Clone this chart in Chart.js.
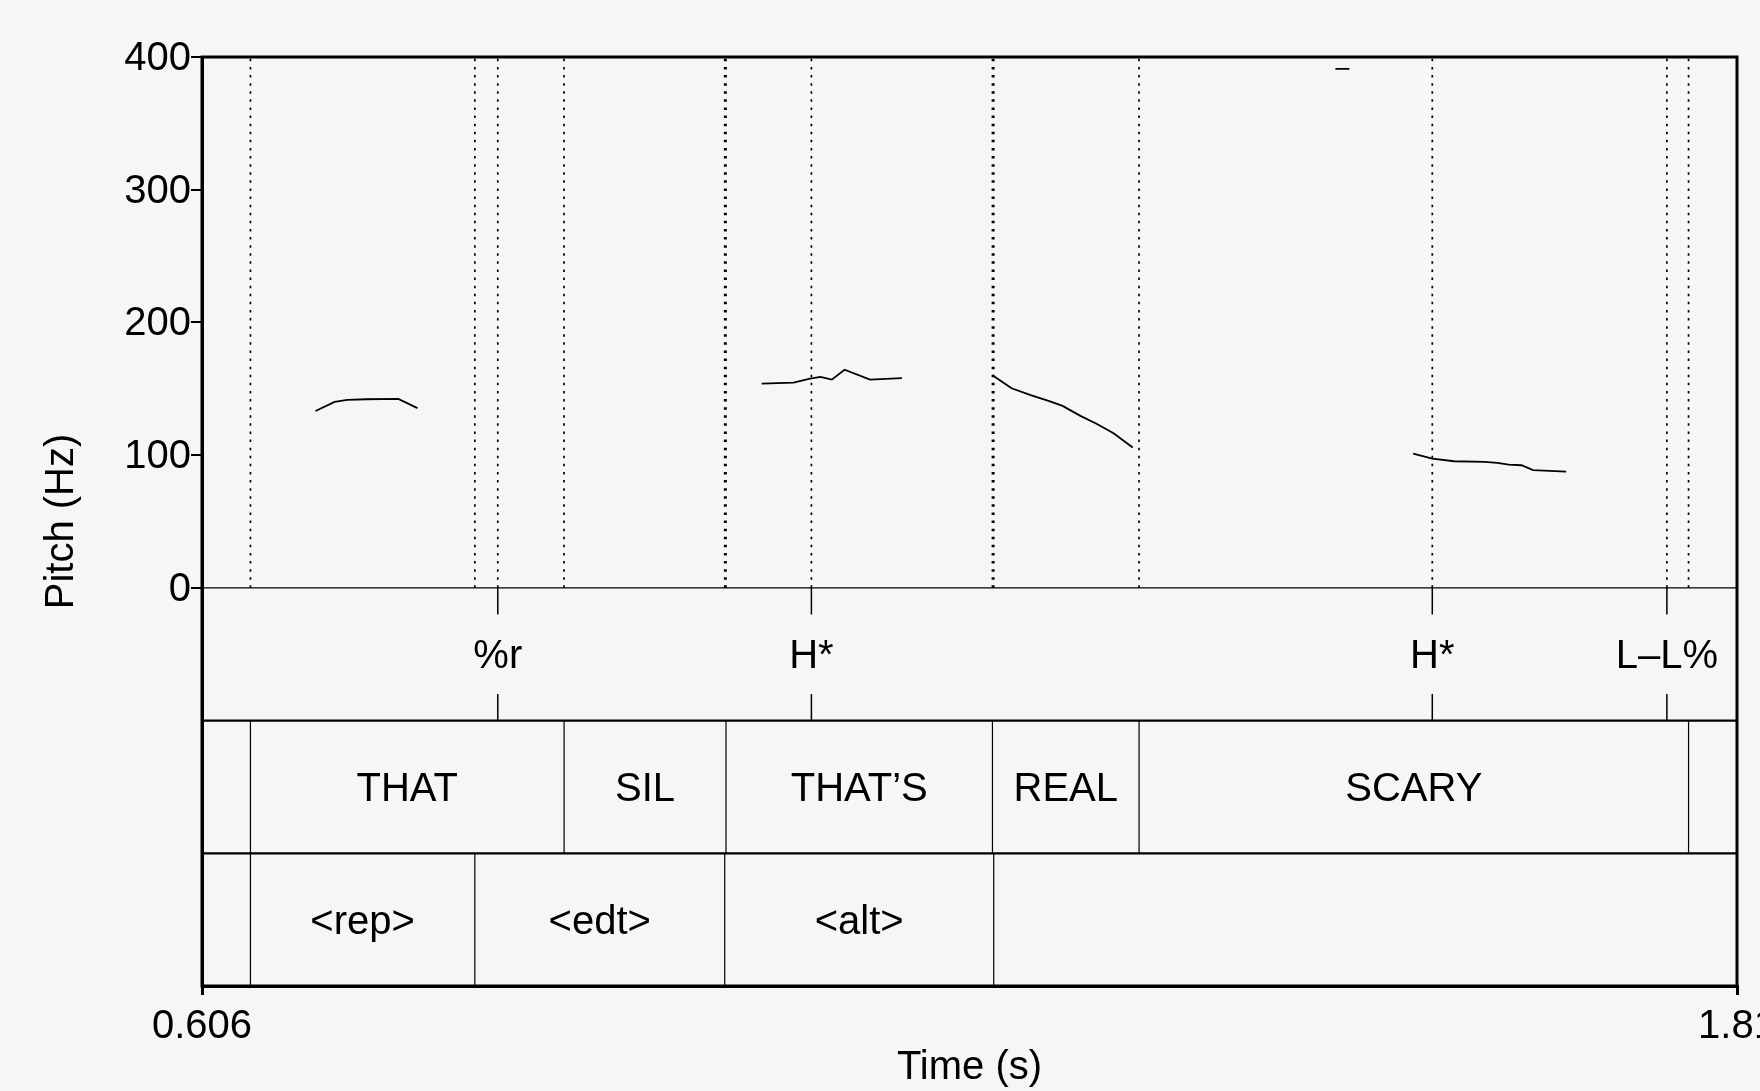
<!DOCTYPE html>
<html lang="en">
<head>
  <meta charset="UTF-8" />
  <title>Pitch track with tone, word and disfluency tiers</title>
  <script src="https://cdn.jsdelivr.net/npm/chart.js@4/dist/chart.umd.min.js"></script>
  <style>
    html, body { margin: 0; padding: 0; background: #f6f6f6; overflow: hidden; }
    canvas { display: block; }
  </style>
</head>
<body>
  <canvas id="pitchChart" width="1760" height="1091"></canvas>

  <script>
    // axes
    const xTicks = [0.606, 1.81];
    const xTickLabels = ['0.606', '1.81'];
    const yTicks = [0, 100, 200, 300, 400];

    // F0 track (s, Hz); a jump in time > 30 ms is an unvoiced gap
    const pitchTime = [0.695, 0.710, 0.720, 0.735, 0.760, 0.775,
                       1.045, 1.070, 1.083, 1.091, 1.100, 1.110, 1.130, 1.155,
                       1.226, 1.241, 1.256, 1.270, 1.281, 1.295, 1.308, 1.321, 1.336,
                       1.495, 1.506,
                       1.556, 1.571, 1.588, 1.612, 1.622, 1.631, 1.641, 1.650, 1.676];
    const pitchHz = [133.3, 140.1, 141.6, 142.1, 142.4, 135.4,
                     153.9, 154.7, 157.7, 158.9, 156.9, 164.4, 156.9, 158.0,
                     160.2, 150.4, 145.2, 140.9, 137.1, 129.6, 123.5, 116.5, 105.7,
                     391.0, 391.0,
                     101.2, 97.4, 95.4, 94.9, 94.2, 92.9, 92.4, 88.7, 87.6];

    // tone tier (points)
    const toneTimes = [0.838, 1.084, 1.571, 1.755];
    const toneLabels = ['%r', 'H*', 'H*', 'L–L%'];

    // word tier (intervals)
    const wordBounds = [0.606, 0.644, 0.890, 1.017, 1.226, 1.341, 1.772, 1.81];
    const wordLabels = ['', 'THAT', 'SIL', 'THAT’S', 'REAL', 'SCARY', ''];

    // disfluency tier (intervals)
    const disfBounds = [0.606, 0.644, 0.820, 1.016, 1.227, 1.81];
    const disfLabels = ['', '<rep>', '<edt>', '<alt>', ''];

    const FONT = '"Liberation Sans", Arial, Helvetica, sans-serif';
    const FSIZE = 40;
    const TIER = 100; // each tier takes 100 units of the y scale below 0 Hz
    const xMin = xTicks[0], xMax = xTicks[xTicks.length - 1];

    function pitchPoints() {
      const pts = [];
      pitchTime.forEach((t, i) => {
        if (i > 0 && t - pitchTime[i - 1] > 0.03) pts.push({ x: t, y: null });
        pts.push({ x: t, y: pitchHz[i] });
      });
      return pts;
    }

    function vlines(times, y0, y1) {
      const pts = [];
      times.forEach(t => {
        pts.push({ x: t, y: y0 }, { x: t, y: y1 }, { x: t, y: null });
      });
      return pts;
    }

    const inner = arr => arr.slice(1, -1);
    const dottedTimes = [...new Set([...inner(wordBounds), ...inner(disfBounds), ...toneTimes])]
      .sort((a, b) => a - b);

    const lineBase = { borderColor: '#000', pointRadius: 0, spanGaps: false, tension: 0, fill: false };

    const datasets = [
      Object.assign({}, lineBase, { data: vlines(dottedTimes, 0, yTicks[yTicks.length - 1]), borderWidth: 1.7, borderDash: [2.5, 5.6] }),
      Object.assign({}, lineBase, { data: [{ x: xMin, y: 0 }, { x: xMax, y: 0 }], borderWidth: 1.3 }),
      Object.assign({}, lineBase, { data: [{ x: xMin, y: -TIER }, { x: xMax, y: -TIER }, { x: xMax, y: null },
                                           { x: xMin, y: -2 * TIER }, { x: xMax, y: -2 * TIER }], borderWidth: 2.2 }),
      Object.assign({}, lineBase, { data: vlines(toneTimes, 0, -0.2 * TIER).concat(vlines(toneTimes, -0.8 * TIER, -TIER)), borderWidth: 1.5 }),
      Object.assign({}, lineBase, { data: vlines(inner(wordBounds), -TIER, -2 * TIER), borderWidth: 1.2 }),
      Object.assign({}, lineBase, { data: vlines(inner(disfBounds), -2 * TIER, -3 * TIER), borderWidth: 1.2 }),
      Object.assign({}, lineBase, { data: pitchPoints(), borderWidth: 1.8 })
    ];

    const background = {
      id: 'background',
      beforeDraw(chart) {
        const c = chart.ctx;
        c.save();
        c.fillStyle = '#f6f6f6';
        c.fillRect(0, 0, chart.width, chart.height);
        c.restore();
      }
    };

    // tier labels and the outer frame
    const tierText = {
      id: 'tierText',
      afterDatasetsDraw(chart) {
        const { ctx, chartArea, scales: { x, y } } = chart;
        const dy = 3;
        ctx.save();
        ctx.font = FSIZE + 'px ' + FONT;
        ctx.fillStyle = '#000';
        ctx.textAlign = 'center';
        ctx.textBaseline = 'middle';
        toneTimes.forEach((t, i) => {
          ctx.fillText(toneLabels[i], x.getPixelForValue(t), y.getPixelForValue(-0.5 * TIER) + dy);
        });
        wordLabels.forEach((lab, i) => {
          if (!lab) return;
          const cx = x.getPixelForValue((wordBounds[i] + wordBounds[i + 1]) / 2);
          ctx.fillText(lab, cx, y.getPixelForValue(-1.5 * TIER) + dy);
        });
        disfLabels.forEach((lab, i) => {
          if (!lab) return;
          const cx = x.getPixelForValue((disfBounds[i] + disfBounds[i + 1]) / 2);
          ctx.fillText(lab, cx, y.getPixelForValue(-2.5 * TIER) + dy);
        });
        ctx.lineWidth = 3;
        ctx.strokeStyle = '#000';
        ctx.strokeRect(chartArea.left, chartArea.top, chartArea.right - chartArea.left, chartArea.bottom - chartArea.top);
        ctx.restore();
      }
    };

    const ctx = document.getElementById('pitchChart').getContext('2d');
    new Chart(ctx, {
      type: 'line',
      data: { datasets: datasets },
      options: {
        responsive: false,
        animation: false,
        devicePixelRatio: 1,
        layout: { padding: { left: 0, right: 23, top: 57, bottom: 0 } },
        plugins: { legend: { display: false }, tooltip: { enabled: false } },
        scales: {
          x: {
            type: 'linear',
            min: xMin,
            max: xMax,
            afterBuildTicks: s => { s.ticks = xTicks.map(v => ({ value: v })); },
            afterFit: s => { s.height = 105; s.paddingLeft = 0; s.paddingRight = 0; },
            ticks: {
              callback: (v, i) => xTickLabels[i],
              color: '#000',
              padding: 8,
              maxRotation: 0,
              autoSkip: false,
              font: { family: FONT, size: FSIZE }
            },
            grid: { drawOnChartArea: false, tickLength: 9, lineWidth: 3, color: '#000' },
            border: { width: 3, color: '#000' },
            title: { display: true, text: 'Time (s)', color: '#000', padding: { top: 0, bottom: -1 }, font: { family: FONT, size: FSIZE } }
          },
          y: {
            type: 'linear',
            min: -3 * TIER,
            max: yTicks[yTicks.length - 1],
            afterBuildTicks: s => { s.ticks = yTicks.map(v => ({ value: v })); },
            afterFit: s => { s.width = 202; s.paddingTop = 0; s.paddingBottom = 0; },
            ticks: { color: '#000', padding: 0, labelOffset: 2, font: { family: FONT, size: FSIZE } },
            grid: { drawOnChartArea: false, tickLength: 11, lineWidth: 2, color: '#000' },
            border: { width: 3, color: '#000' },
            title: { display: true, text: 'Pitch (Hz)', color: '#000', padding: { top: 38, bottom: 0 }, font: { family: FONT, size: FSIZE } }
          }
        }
      },
      plugins: [background, tierText]
    });
  </script>
</body>
</html>
